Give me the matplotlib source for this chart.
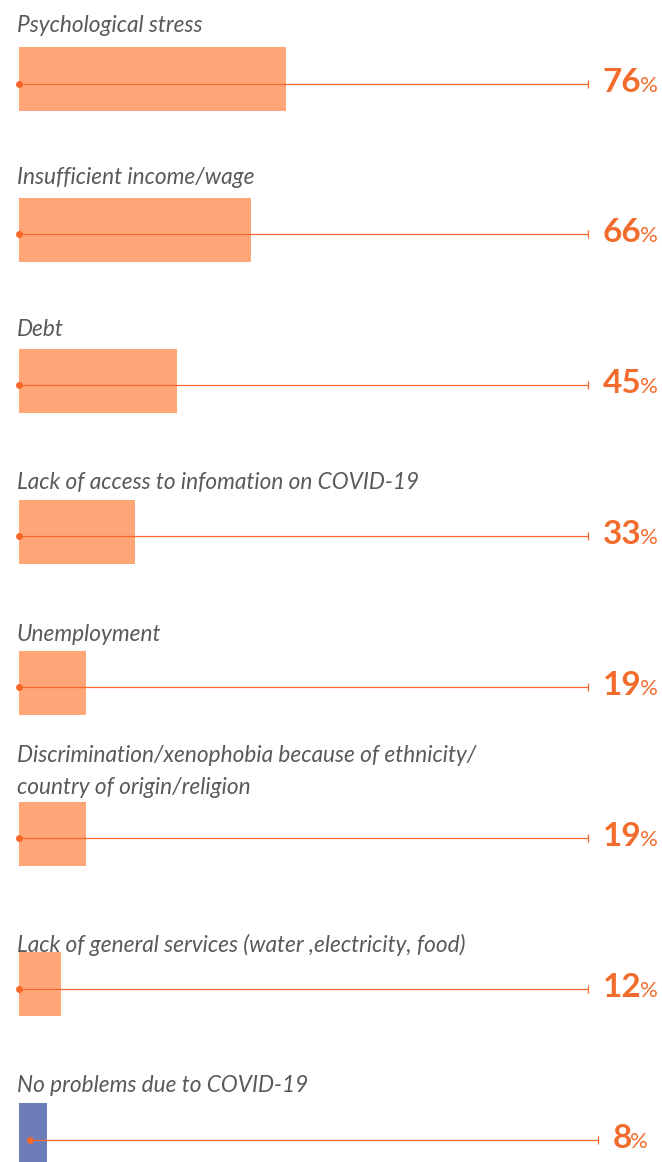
import matplotlib
matplotlib.use('Agg')
import matplotlib.pyplot as plt
from matplotlib.offsetbox import TextArea, HPacker, AnnotationBbox

# Problems faced due to COVID-19 (share of respondents, %)
labels = [
    'Psychological stress',
    'Insufficient income/wage',
    'Debt',
    'Lack of access to infomation on COVID-19',
    'Unemployment',
    'Discrimination/xenophobia because of ethnicity/\ncountry of origin/religion',
    'Lack of general services (water ,electricity, food)',
    'No problems due to COVID-19',
]
values = [76, 66, 45, 33, 19, 19, 12, 8]
highlight = [False] * 7 + [True]

# gap (px) between each label's last baseline and the bar top, as laid out in the source
label_gap = [15, 14, 13, 11, 10, 7, 0, 11]

BAR = '#ffa678'
BAR_ALT = '#6c7cb9'
LINE = '#f7672a'
NUM = '#f26c2d'
GREY = '#595959'

W, H, DPI = 662, 1162, 100
PX_PER_PCT = 3.51     # bar scale
X0 = 19               # pixel where 0% sits
ROW0, ROW_H = 79, 150.9
LINE_END = 162        # line end, in % units
TEXT_X = 174.2        # centre of the value label, in % units

plt.rcParams['font.family'] = ['Lato', 'DejaVu Sans']

fig = plt.figure(figsize=(W / DPI, H / DPI), dpi=DPI)
ax = fig.add_axes([0, 0, 1, 1])
ax.set_xlim(-X0 / PX_PER_PCT, (W - X0) / PX_PER_PCT)
ax.set_ylim((H - ROW0) / ROW_H, -ROW0 / ROW_H)
ax.axis('off')

bar_h = 64 / ROW_H
for i, (lab, v, hl) in enumerate(zip(labels, values, highlight)):
    ax.barh(i, v, height=bar_h, left=0, color=BAR_ALT if hl else BAR, zorder=1)
    shift = 3 if hl else 0
    ly = i + 0.03
    ax.plot([shift, LINE_END + shift], [ly, ly], color=LINE, lw=0.9, zorder=2,
            solid_capstyle='butt')
    ax.plot([shift], [ly], 'o', color=LINE, ms=5, mec='none', zorder=3)
    ax.plot([LINE_END + shift], [ly], '|', color=LINE, ms=6, mew=0.9, zorder=3)

    ax.text(-0.6, i - bar_h / 2 - label_gap[i] / ROW_H, lab, ha='left',
            va='baseline', fontsize=16.3, style='italic', fontweight='normal',
            color=GREY, linespacing=1.65)

    num = TextArea(str(v), textprops=dict(fontsize=24, fontweight='bold', color=NUM))
    pct = TextArea('%', textprops=dict(fontsize=16, fontweight='normal', color=NUM))
    box = HPacker(children=[num, pct], align='baseline', pad=0, sep=-1)
    ab = AnnotationBbox(box, (TEXT_X, ly), frameon=False, box_alignment=(0.5, 0.45),
                        pad=0)
    ax.add_artist(ab)

fig.savefig('out.png', dpi=DPI)
